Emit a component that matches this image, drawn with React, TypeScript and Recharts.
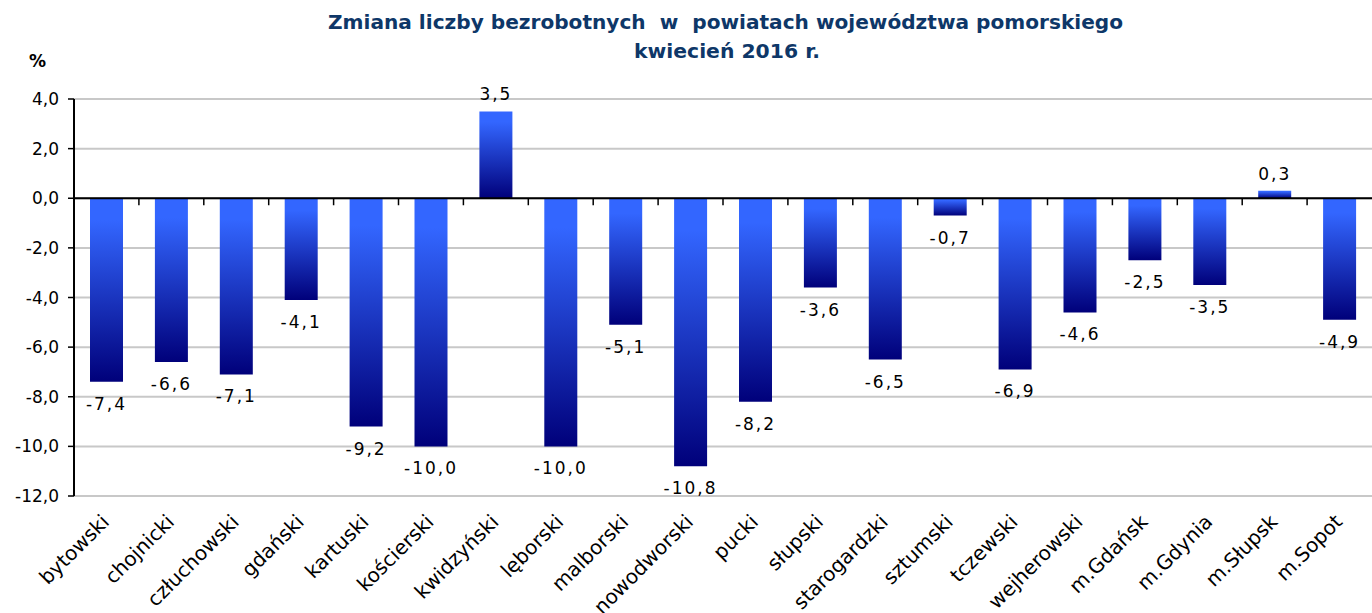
import React from "react";
import { BarChart, Bar, XAxis, YAxis, CartesianGrid, ReferenceLine, LabelList } from "recharts";

const categories = [
  "bytowski", "chojnicki", "człuchowski", "gdański", "kartuski", "kościerski", "kwidzyński",
  "lęborski", "malborski", "nowodworski", "pucki", "słupski", "starogardzki", "sztumski",
  "tczewski", "wejherowski", "m.Gdańsk", "m.Gdynia", "m.Słupsk", "m.Sopot",
];
const values = [-7.4, -6.6, -7.1, -4.1, -9.2, -10.0, 3.5, -10.0, -5.1, -10.8, -8.2, -3.6, -6.5, -0.7, -6.9, -4.6, -2.5, -3.5, 0.3, -4.9];
const yTicks = [-12, -10, -8, -6, -4, -2, 0, 2, 4];
const titleLine1 = "Zmiana liczby bezrobotnych  w  powiatach województwa pomorskiego";
const titleLine2 = "kwiecień 2016 r.";
const unitLabel = "%";

const data = categories.map((name, i) => ({ name, value: values[i] }));

const FONT = "'DejaVu Sans', Verdana, sans-serif";
const fmt = (v: number) => v.toFixed(1).replace(".", ",");

const CategoryTick = (props: any) => {
  const { x, y, payload } = props;
  const px = x + 4;
  const py = y + 27;
  return (
    <text
      x={px}
      y={py}
      textAnchor="end"
      transform={`rotate(-45 ${px} ${py})`}
      fontFamily={FONT}
      fontSize={20}
      fill="#000"
    >
      {payload.value}
    </text>
  );
};

const ValueLabel = (props: any) => {
  const { x, y, width, height, value } = props;
  const top = Math.min(y, y + height);
  const bottom = Math.max(y, y + height);
  const cx = x + width / 2;
  const ly = value < 0 ? bottom + 22 : top - 17;
  return (
    <text
      x={cx}
      y={ly}
      textAnchor="middle"
      dominantBaseline="central"
      fontFamily={FONT}
      fontSize={17}
      letterSpacing={2}
      fill="#000"
    >
      {fmt(value)}
    </text>
  );
};

const ZeroLine = (props: any) => {
  const { x1, y1, x2, y2 } = props;
  const n = categories.length;
  const step = (x2 - x1) / n;
  const marks = [];
  for (let i = 1; i < n; i++) {
    const tx = x1 + i * step;
    marks.push(<line key={i} x1={tx} y1={y1} x2={tx} y2={y1 + 7} stroke="#000" strokeWidth={1.5} />);
  }
  return (
    <g>
      <line x1={x1} y1={y1} x2={x2} y2={y2} stroke="#000" strokeWidth={2} />
      {marks}
    </g>
  );
};

export default function App() {
  return (
    <div style={{ position: "absolute", left: 0, top: 0, width: 1372, height: 613, background: "#fff" }}>
      <svg width={1372} height={90} style={{ position: "absolute", left: 0, top: 0 }}>
        <text
          x={725.5}
          y={29}
          textAnchor="middle"
          fontFamily={FONT}
          fontWeight="bold"
          fontSize={20}
          fill="#0E3768"
          textLength={795}
          lengthAdjust="spacingAndGlyphs"
          style={{ whiteSpace: "pre" }}
        >
          {titleLine1}
        </text>
        <text
          x={727}
          y={58}
          textAnchor="middle"
          fontFamily={FONT}
          fontWeight="bold"
          fontSize={20}
          fill="#0E3768"
          textLength={186}
          lengthAdjust="spacingAndGlyphs"
          style={{ whiteSpace: "pre" }}
        >
          {titleLine2}
        </text>
        <text x={29} y={67} fontFamily={FONT} fontWeight="bold" fontSize={17} fill="#000">
          {unitLabel}
        </text>
      </svg>
      <div style={{ position: "absolute", left: 0, top: 0 }}>
        <BarChart width={1372} height={613} data={data} margin={{ top: 99, right: 0, bottom: 0, left: 0 }}>
          <defs>
            <linearGradient id="barGrad" x1="0" y1="0" x2="0" y2="1">
              <stop offset="0%" stopColor="#3366FF" />
              <stop offset="12%" stopColor="#3366FF" />
              <stop offset="100%" stopColor="#00007A" />
            </linearGradient>
          </defs>
          <CartesianGrid vertical={false} stroke="#c8c8c8" strokeWidth={2} />
          <XAxis
            dataKey="name"
            height={117}
            interval={0}
            axisLine={false}
            tickLine={false}
            tickSize={0}
            tickMargin={0}
            tick={<CategoryTick />}
          />
          <YAxis
            width={74}
            domain={[-12, 4]}
            ticks={yTicks}
            interval={0}
            tickFormatter={fmt}
            axisLine={{ stroke: "#000", strokeWidth: 2 }}
            tickLine={{ stroke: "#000", strokeWidth: 1.5 }}
            tickSize={6}
            tickMargin={9}
            tick={{ fontFamily: FONT, fontSize: 17, fill: "#000" }}
          />
          <Bar dataKey="value" fill="url(#barGrad)" barSize={33} isAnimationActive={false}>
            <LabelList dataKey="value" content={<ValueLabel />} />
          </Bar>
          <ReferenceLine y={0} shape={<ZeroLine />} />
        </BarChart>
      </div>
    </div>
  );
}
